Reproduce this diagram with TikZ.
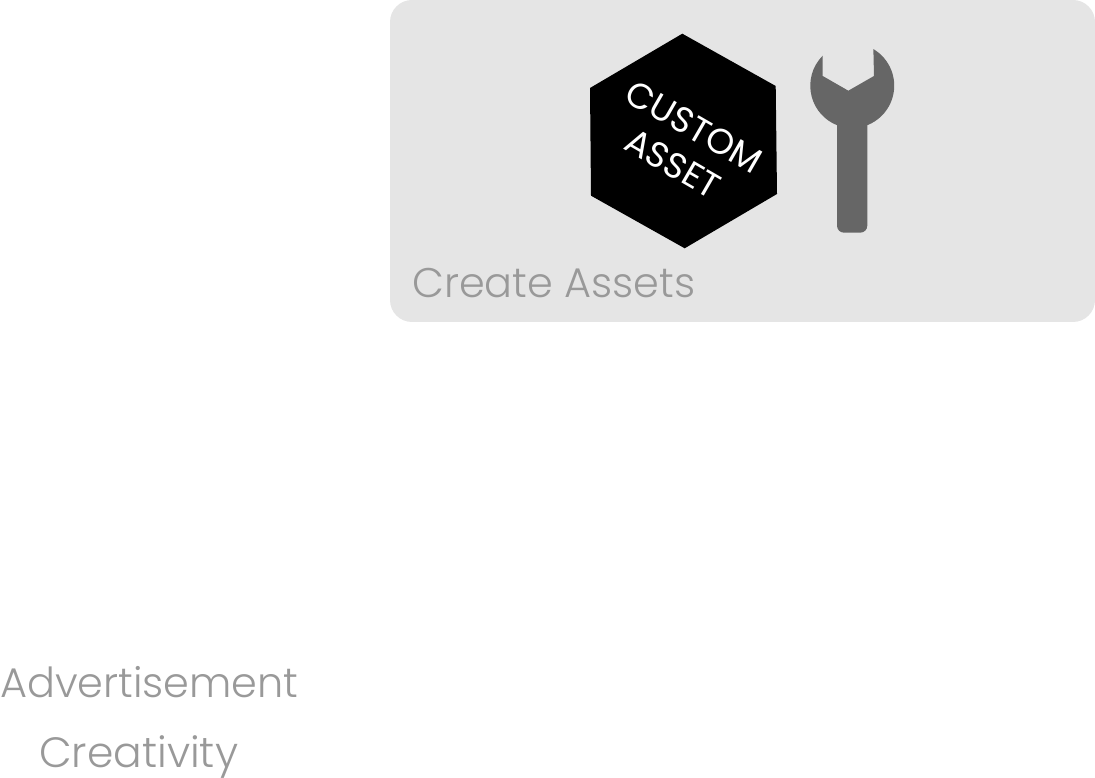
\documentclass[tikz,border=0pt]{standalone}
\usepackage{fontspec}
\setmainfont{Poppins Light}
\newfontfamily\hexfont{Poppins}
\definecolor{panelgray}{HTML}{E5E5E5}
\definecolor{labelgray}{HTML}{999999}
\definecolor{wrenchgray}{HTML}{666666}
\begin{document}
\begin{tikzpicture}
[x=1pt,y=1pt]
\tikzset{lbl/.style={anchor=base west,inner sep=0pt,text=labelgray,font=\fontsize{41.4}{42}\selectfont}}
\tikzset{hexlbl/.style={inner sep=0pt,text=white,rotate=-30,font=\hexfont\fontsize{35.5}{36}\selectfont}}
\useasboundingbox (0,0) rectangle (1095,778);
\fill [panelgray,rounded corners=22pt] (390,456) rectangle (1095,778);
\fill [black] (682.3,744.3) -- (775.7,692) -- (777,584) -- (684.7,529.7) -- (591,582.3) -- (590,690) -- cycle;
\fill [wrenchgray] (822.7,722.3) arc [start angle=135,end angle=248.5,radius=42.5]
	-- (837,552.3) arc [start angle=180,end angle=270,radius=7]
	-- (860.3,545.3) arc [start angle=270,end angle=360,radius=7]
	-- (867.3,652.8) arc [start angle=291.5,end angle=419.4,radius=42.5]
	-- (874,702) -- (848.3,687.3) -- (822.7,702) -- cycle;
\node [hexlbl] (custom) at (694,651) {CUSTOM};
\node [hexlbl] (asset) at (673,614) {ASSET};
\node [lbl] (create) at (412,480) {Create Assets};
\node [lbl] (advert) at (0,80) {Advertisement};
\node [lbl,font=\fontsize{42.4}{43}\selectfont] (creativity) at (39,10) {Creativity};
\end{tikzpicture}
\end{document}
